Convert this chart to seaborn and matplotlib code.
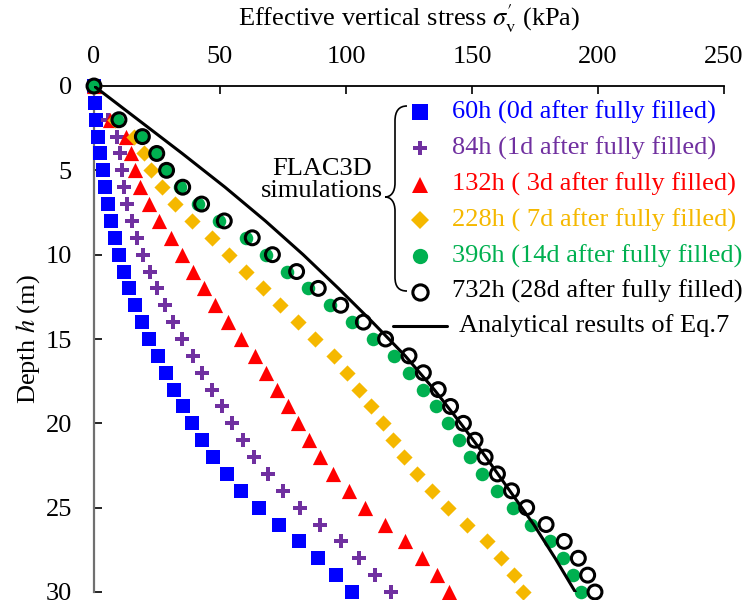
import numpy as np
import pandas as pd
import matplotlib
matplotlib.use("Agg")
import matplotlib.pyplot as plt
import seaborn as sns
from matplotlib.lines import Line2D
from matplotlib.path import Path
from matplotlib.patches import PathPatch

# ---- data -------------------------------------------------------------
depth = np.arange(0, 31)  # m
nan = np.nan

stress_60h = [0, 0.4, 0.8, 1.6, 2.4, 3.6, 4.4, 5.6, 6.7, 8.3, 9.9, 11.8, 13.9, 16.3,
              19.0, 21.8, 25.4, 28.6, 31.7, 35.3, 38.9, 42.9, 47.2, 52.8, 58.3, 65.5,
              73.4, 81.3, 88.9, 96.0, 102.4]
stress_84h = [0, nan, 5.6, 9.2, 10.3, 11.0, 12.0, 13.0, 15.0, 17.0, 19.3, 22.2, 25.0,
              28.1, 31.3, 35.0, 39.4, 43.0, 46.7, 50.8, 54.8, 59.1, 63.3, 69.0, 75.0,
              81.7, 89.7, 98.0, 105.2, 111.7, 117.7]
stress_132h = [0, nan, 6.2, 12.5, 14.8, 16.1, 18.3, 21.8, 25.6, 30.4, 34.8, 39.2, 43.7,
               48.1, 53.3, 58.3, 64.0, 68.3, 72.7, 76.9, 81.1, 85.3, 89.5, 95.0, 101.0,
               107.5, 115.5, 123.4, 130.0, 136.0, 140.9]
stress_228h = [0, nan, 8.5, 15.8, 20.0, 22.6, 26.9, 32.3, 39.0, 46.9, 53.5, 60.2, 67.1,
               73.9, 80.8, 87.7, 95.2, 100.3, 105.3, 110.1, 114.6, 118.8, 123.0, 128.3,
               134.1, 140.6, 148.1, 155.8, 161.6, 166.7, 170.4]
stress_396h = [0, nan, 9.3, 18.6, 24.2, 28.2, 34.1, 41.4, 49.7, 60.3, 68.3, 76.5, 85.0,
               93.7, 102.3, 110.8, 119.1, 125.1, 130.7, 135.7, 140.6, 145.0, 149.2, 154.0,
               160.0, 166.1, 173.4, 181.0, 186.2, 190.2, 193.1]
stress_732h = [0, nan, 9.9, 19.2, 24.9, 28.8, 35.2, 42.7, 51.7, 62.8, 70.8, 80.4, 89.0,
               97.9, 106.9, 115.7, 125.0, 130.7, 136.6, 141.5, 146.6, 151.2, 155.2, 160.1,
               165.7, 171.7, 179.4, 186.6, 192.2, 195.9, 198.8]

# analytical solution (Eq. 7)
eq7_depth = [0, 2, 4, 6, 8, 10, 12, 14, 16, 18, 20, 22, 24, 26, 28, 30]
eq7_stress = [0, 17.5, 35.0, 52.0, 68.0, 83.0, 97.0, 110.5, 123.5, 135.0, 145.5, 155.5,
              165.0, 174.5, 183.0, 191.0]

series_labels = ["60h (0d after fully filled)", "84h (1d after fully filled)",
                 "132h ( 3d after fully filled)", "228h ( 7d after fully filled)",
                 "396h (14d after fully filled)", "732h (28d after fully filled)"]
series_values = [stress_60h, stress_84h, stress_132h, stress_228h, stress_396h, stress_732h]
series_colors = ["#0000FF", "#7030A0", "#FF0000", "#F5B800", "#00B050", "#000000"]
series_markers = ["s", "P", "^", "D", "o", "o"]
series_sizes = [100, 115, 120, 68, 95, 100]

x_ticks = [0, 50, 100, 150, 200, 250]
y_ticks = [0, 5, 10, 15, 20, 25, 30]

# ---- style ------------------------------------------------------------
sns.set_theme(style="white")
plt.rcParams["font.family"] = ["Liberation Serif", "DejaVu Serif"]
plt.rcParams["mathtext.fontset"] = "stix"
FS = 19

W, H = 745, 600
fig = plt.figure(figsize=(W / 100, H / 100), dpi=100)
ax = fig.add_axes([94 / W, 1 - 592 / H, 630 / W, 506 / H])


def fx(px):
    return px / W


def fy(py):
    return 1 - py / H


frames = []
for lab, vals in zip(series_labels, series_values):
    frames.append(pd.DataFrame({"depth": depth, "stress": vals, "series": lab}))
df = pd.concat(frames, ignore_index=True)

for lab, col, mk, sz in zip(series_labels, series_colors, series_markers, series_sizes):
    sub = df[df["series"] == lab]
    sns.scatterplot(data=sub, x="stress", y="depth", marker=mk, color=col, s=sz,
                    linewidth=0, ax=ax, clip_on=False, zorder=3)
    if lab.startswith("732h"):
        coll = ax.collections[-1]
        coll.set_facecolor("none")
        coll.set_edgecolor("black")
        coll.set_linewidth(2.2)
        coll.set_zorder(4)

sns.lineplot(x=eq7_stress, y=eq7_depth, sort=False, color="black", linewidth=2.2,
             ax=ax, zorder=5)

ax.set_xlim(0, 250)
ax.set_ylim(30, 0)
ax.xaxis.tick_top()
ax.xaxis.set_label_position("top")
ax.set_xticks(x_ticks)
ax.set_yticks(y_ticks)
ax.tick_params(axis="x", direction="in", length=6, width=1.2, color="black",
               labelsize=FS, pad=13, top=True, bottom=False)
ax.tick_params(axis="y", direction="in", length=6, width=1.2, color="black",
               labelsize=FS, pad=16, left=True, right=False)
for t in ax.get_xticklabels() + ax.get_yticklabels():
    t.set_color("black")

for side in ["right", "bottom"]:
    ax.spines[side].set_visible(False)
ax.spines["top"].set_color("black")
ax.spines["top"].set_linewidth(1.3)
ax.spines["left"].set_color("#707070")
ax.spines["left"].set_linewidth(1.6)

ax.set_xlabel(r"Effective vertical stress $\sigma^{\prime}_{\mathrm{v}}$ (kPa)",
              fontsize=FS, color="black")
ax.xaxis.set_label_coords(0.5, 1 + (86 - 19) / 506)
ax.xaxis.label.set_va("center")
ax.set_ylabel(r"Depth $h$ (m)", fontsize=FS, color="black")
ax.yaxis.set_label_coords(-(94 - 28) / 630, 0.5)
ax.yaxis.label.set_va("center")

# ---- hand-built legend -----------------------------------------------
row_y = [112, 148, 184.5, 220, 256, 291.5]
leg_sizes = [11, 10, 11, 9, 11, 11]
for i, (lab, col, mk) in enumerate(zip(series_labels, series_colors, series_markers)):
    if lab.startswith("732h"):
        m = Line2D([fx(420)], [fy(row_y[i])], marker="o", markersize=leg_sizes[i],
                   markerfacecolor="none", markeredgecolor="black", markeredgewidth=2.2,
                   linestyle="none", transform=fig.transFigure)
    else:
        m = Line2D([fx(420)], [fy(row_y[i])], marker=mk, markersize=leg_sizes[i],
                   color=col, markeredgewidth=0, linestyle="none",
                   transform=fig.transFigure)
    fig.add_artist(m)
    fig.text(fx(452), fy(row_y[i]), lab, color=col, fontsize=FS, ha="left",
             va="center")

fig.add_artist(Line2D([fx(393), fx(447)], [fy(326), fy(326)], color="black",
                      linewidth=2.2, transform=fig.transFigure))
fig.text(fx(459), fy(326), "Analytical results of Eq.7", color="black", fontsize=FS,
         ha="left", va="center")

fig.text(fx(322), fy(180), "FLAC3D\nsimulations", color="black", fontsize=FS,
         ha="center", va="center", multialignment="center", linespacing=1.0)

# curly brace grouping the simulation series
brace_px = [(407, 106), (399, 106), (395, 111), (395, 121),
            (395, 183),
            (395, 192), (391, 197), (385, 197),
            (391, 197), (395, 202), (395, 211),
            (395, 277),
            (395, 287), (399, 291), (407, 291)]
codes = [Path.MOVETO, Path.CURVE4, Path.CURVE4, Path.CURVE4,
         Path.LINETO,
         Path.CURVE4, Path.CURVE4, Path.CURVE4,
         Path.CURVE4, Path.CURVE4, Path.CURVE4,
         Path.LINETO,
         Path.CURVE4, Path.CURVE4, Path.CURVE4]
verts = [(fx(px), fy(py)) for px, py in brace_px]
fig.add_artist(PathPatch(Path(verts, codes), facecolor="none", edgecolor="black",
                         linewidth=1.2, transform=fig.transFigure))

fig.savefig("out.png", dpi=100)
